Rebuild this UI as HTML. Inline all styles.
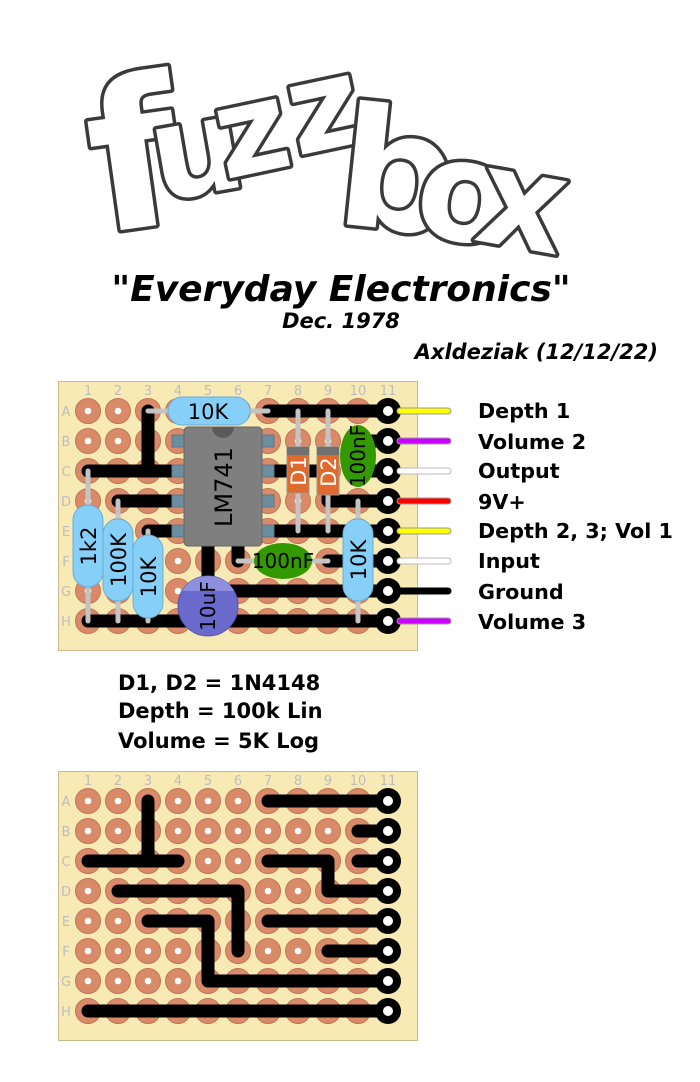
<!DOCTYPE html>
<html><head><meta charset="utf-8"><style>
html,body{margin:0;padding:0;background:#fff}
svg{display:block}
.b{font-family:"DejaVu Sans","Liberation Sans",sans-serif;font-weight:bold}
</style></head><body>
<svg width="700" height="1082" viewBox="0 0 700 1082" xmlns="http://www.w3.org/2000/svg">
<defs>
<pattern id="pp" x="73" y="396" width="30" height="30" patternUnits="userSpaceOnUse">
<circle cx="15" cy="15" r="12.5" fill="#d98a69" stroke="#c07458" stroke-width="1"/>
<circle cx="15" cy="15" r="3.3" fill="#fff"/>
</pattern>
<g id="board">
<rect x="58.5" y="381.5" width="359" height="269" fill="#f8eab4" stroke="#c9b98c"/>
<rect x="73" y="396" width="300" height="240" fill="url(#pp)"/>
<g fill="none" stroke="#000" stroke-width="13" stroke-linecap="round" stroke-linejoin="round">
<path d="M268 411H388M358 441H388M148 411V471M88 471H178M268 471H328V501H388M358 471H388M118 501H238V561M148 531H208V591H388M268 531H388M328 561H388M88 621H388"/>
</g>
<g fill="#000">
<circle cx="388" cy="411" r="13"/><circle cx="388" cy="441" r="13"/><circle cx="388" cy="471" r="13"/><circle cx="388" cy="501" r="13"/><circle cx="388" cy="531" r="13"/><circle cx="388" cy="561" r="13"/><circle cx="388" cy="591" r="13"/><circle cx="388" cy="621" r="13"/>
</g>
<g fill="#fff">
<circle cx="388" cy="411" r="5"/><circle cx="388" cy="441" r="5"/><circle cx="388" cy="471" r="5"/><circle cx="388" cy="501" r="5"/><circle cx="388" cy="531" r="5"/><circle cx="388" cy="561" r="5"/><circle cx="388" cy="591" r="5"/><circle cx="388" cy="621" r="5"/>
</g>
<g font-family="DejaVu Sans,Liberation Sans,sans-serif" font-size="13" fill="#bdbdbd" text-anchor="middle">
<text x="88" y="395">1</text><text x="118" y="395">2</text><text x="148" y="395">3</text><text x="178" y="395">4</text><text x="208" y="395">5</text><text x="238" y="395">6</text><text x="268" y="395">7</text><text x="298" y="395">8</text><text x="328" y="395">9</text><text x="358" y="395">10</text><text x="388" y="395">11</text>
<text x="66" y="416">A</text><text x="66" y="446">B</text><text x="66" y="476">C</text><text x="66" y="506">D</text><text x="66" y="536">E</text><text x="66" y="566">F</text><text x="66" y="596">G</text><text x="66" y="626">H</text>
</g>
</g>
</defs>

<!-- logo -->
<g font-family="DejaVu Sans,Liberation Sans,sans-serif" font-weight="bold" fill="#fff" stroke="#3a3a3a" stroke-width="7" stroke-linejoin="round" paint-order="stroke">
<text x="88" y="228" font-size="205" transform="rotate(-8 130 150)">f</text>
<text x="150" y="195" font-size="130" transform="rotate(-10 190 150)">u</text>
<text x="215" y="172" font-size="125" transform="rotate(-12 255 130)">z</text>
<text x="288" y="150" font-size="125" transform="rotate(-12 320 110)">z</text>
<text x="340" y="228" font-size="165" transform="rotate(6 385 160)">b</text>
<text x="418" y="240" font-size="140" transform="rotate(8 460 190)">o</text>
<text x="480" y="250" font-size="135" transform="rotate(10 535 200)">x</text>
</g>

<text class="b" x="341" y="301" font-size="36" text-anchor="middle">"<tspan font-style="italic">Everyday Electronics</tspan>"</text>
<text class="b" x="341" y="328" font-size="21" font-style="italic" text-anchor="middle">Dec. 1978</text>
<text class="b" x="658" y="359" font-size="21" font-style="italic" text-anchor="end">Axldeziak (12/12/22)</text>

<use href="#board"/>

<!-- off-board wires -->
<g stroke-linecap="round" stroke-width="7">
<path d="M400 411H448" stroke="#999"/><path d="M400 411H448" stroke="#ffff00" stroke-width="5"/>
<path d="M400 441H448" stroke="#999"/><path d="M400 441H448" stroke="#cc00ff" stroke-width="5"/>
<path d="M400 471H448" stroke="#bbb"/><path d="M400 471H448" stroke="#fff" stroke-width="5"/>
<path d="M400 501H448" stroke="#999"/><path d="M400 501H448" stroke="#ff0000" stroke-width="5"/>
<path d="M400 531H448" stroke="#999"/><path d="M400 531H448" stroke="#ffff00" stroke-width="5"/>
<path d="M400 561H448" stroke="#bbb"/><path d="M400 561H448" stroke="#fff" stroke-width="5"/>
<path d="M400 591H448" stroke="#000"/>
<path d="M400 621H448" stroke="#999"/><path d="M400 621H448" stroke="#cc00ff" stroke-width="5"/>
</g>
<g class="b" font-size="20.7">
<text x="478" y="418">Depth 1</text>
<text x="478" y="449">Volume 2</text>
<text x="478" y="478">Output</text>
<text x="478" y="509">9V+</text>
<text x="478" y="538">Depth 2, 3; Vol 1</text>
<text x="478" y="568">Input</text>
<text x="478" y="599">Ground</text>
<text x="478" y="629">Volume 3</text>
</g>

<!-- components -->
<g stroke="#c4c4c4" stroke-width="5" stroke-linecap="round" fill="none">
<path d="M148 411H268"/>
<path d="M298 411V531M328 411V531"/>
<path d="M238 561H328"/>
<path d="M88 471V621M118 501V621M148 531V621M358 501V621"/>
</g>
<!-- IC -->
<g fill="#6a8ea0" stroke="#5a7a8a" stroke-width="1">
<rect x="172" y="435" width="14" height="12"/><rect x="172" y="465" width="14" height="12"/><rect x="172" y="495" width="14" height="12"/><rect x="172" y="525" width="14" height="12"/>
<rect x="260" y="435" width="14" height="12"/><rect x="260" y="465" width="14" height="12"/><rect x="260" y="495" width="14" height="12"/><rect x="260" y="525" width="14" height="12"/>
</g>
<rect x="184" y="427" width="78" height="119" rx="4" fill="#7f7f7f" stroke="#666"/>
<path d="M212 427A11 11 0 0 0 234 427Z" fill="#5a5a5a"/>
<text font-family="DejaVu Sans,Liberation Sans,sans-serif" font-size="24" text-anchor="middle" transform="translate(232 487) rotate(-90)">LM741</text>

<!-- resistors -->
<g fill="#86cff8" stroke="#6aaed6" stroke-width="1">
<rect x="168" y="397" width="82" height="28" rx="14"/>
<rect x="73" y="505" width="30" height="82" rx="15"/>
<rect x="103" y="519" width="30" height="82" rx="15"/>
<rect x="133" y="535" width="30" height="83" rx="15"/>
<rect x="343" y="519" width="30" height="82" rx="15"/>
</g>
<g fill="#86cff8">
<rect x="185" y="399" width="48" height="24"/>
<rect x="75" y="522" width="26" height="48"/>
<rect x="105" y="536" width="26" height="48"/>
<rect x="135" y="552" width="26" height="49"/>
<rect x="345" y="536" width="26" height="48"/>
</g>
<g font-family="DejaVu Sans,Liberation Sans,sans-serif" font-size="21" text-anchor="middle">
<text x="208" y="419">10K</text>
<text transform="translate(96 546) rotate(-90)">1k2</text>
<text transform="translate(126 560) rotate(-90)">100K</text>
<text transform="translate(156 577) rotate(-90)">10K</text>
<text transform="translate(366 560) rotate(-90)">10K</text>
</g>
<!-- diodes -->
<rect x="287" y="447" width="22" height="46" fill="#e0692e" stroke="#999"/>
<rect x="287" y="447" width="22" height="8" fill="#707070"/>
<rect x="317" y="447" width="22" height="48" fill="#e0692e" stroke="#999"/>
<rect x="317" y="447" width="22" height="8" fill="#707070"/>
<g font-family="DejaVu Sans,Liberation Sans,sans-serif" font-size="21" fill="#fff" text-anchor="middle">
<text transform="translate(306 471) rotate(-90)">D1</text>
<text transform="translate(336 472) rotate(-90)">D2</text>
</g>
<!-- caps -->
<ellipse cx="358" cy="456" rx="18" ry="31" fill="#339900"/>
<ellipse cx="283" cy="561" rx="29" ry="18" fill="#339900"/>
<g font-family="DejaVu Sans,Liberation Sans,sans-serif" font-size="20" text-anchor="middle">
<text transform="translate(365 456) rotate(-90)">100nF</text>
<text x="283" y="568">100nF</text>
</g>
<circle cx="208" cy="606" r="30" fill="#6a6acd" stroke="#5555aa"/>
<path d="M182 591A30 30 0 0 1 234 591Z" fill="#8f8fe0"/>
<text font-family="DejaVu Sans,Liberation Sans,sans-serif" font-size="20" text-anchor="middle" transform="translate(215 606) rotate(-90)">10uF</text>

<g class="b" font-size="21">
<text x="118" y="690">D1, D2 = 1N4148</text>
<text x="118" y="718">Depth = 100k Lin</text>
<text x="118" y="748">Volume = 5K Log</text>
</g>

<use href="#board" y="390"/>
</svg>
</body></html>
